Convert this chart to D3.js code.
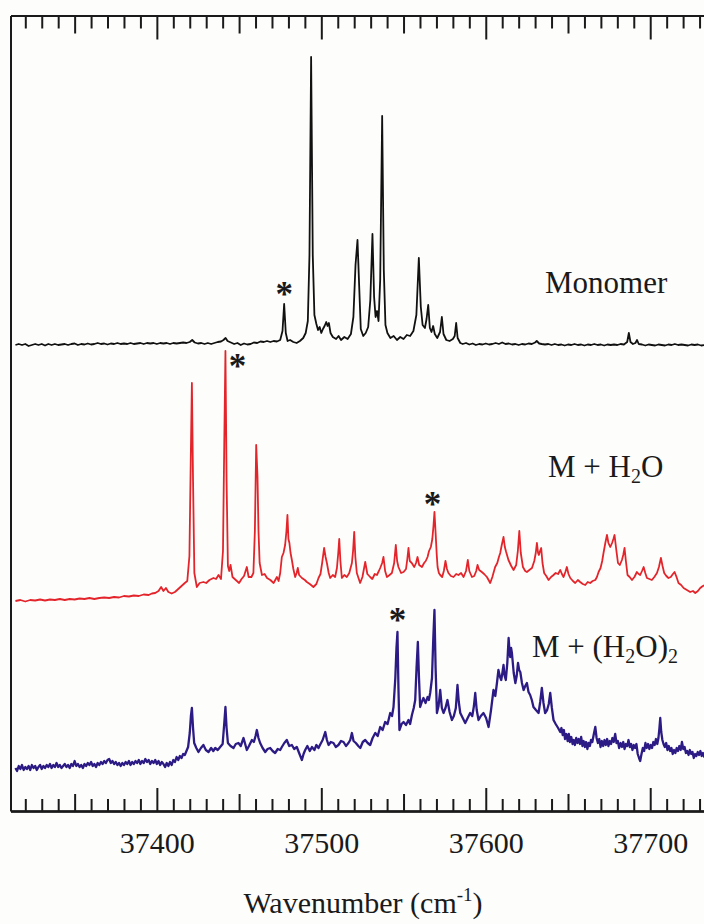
<!DOCTYPE html>
<html>
<head>
<meta charset="utf-8">
<script src="https://cdn.jsdelivr.net/npm/d3@7/dist/d3.min.js"></script>
<style>
  html, body { margin: 0; padding: 0; background: #fdfdfb; }
  svg { display: block; }
  text { font-family: "Liberation Serif", "Times New Roman", Times, serif; fill: #1a1a1a; }
</style>
</head>
<body>
<div id="chart"></div>
<script>
// Wavenumber range shown on the x axis (cm^-1)
const xDomain = [37311, 37740];
const majorTicks = [37400, 37500, 37600, 37700];
const mediumTicks = [37350, 37450, 37550, 37650];
const minorTicks = d3.range(37320, 37740, 10);

// Vertical stacking offsets of the three traces (arbitrary intensity units)
const traceOffsets = { monomer: 466, mH2O: 210, mH2O2: 43 };

// Monomer spectrum: [wavenumber, intensity]
const monomer = [
[37314,0],[37316,1],[37318,0],[37320,1],[37322,-1],[37324,0],[37326,1],[37328,0],[37330,1],[37332,-0.5],[37334,1],[37336,0],[37338,1],[37340,0],[37342,0.5],[37344,1],[37346,0],[37348,1],[37350,1.5],[37352,0],[37354,1],[37356,0.5],[37358,1.5],[37360,0.5],[37362,1],[37364,2],[37366,1],[37368,1.5],[37370,0.5],[37372,1.5],[37374,1],[37376,2],[37378,1],[37380,1.5],[37382,1],[37384,2],[37386,1],[37388,1.5],[37390,2],[37392,1],[37394,2],[37396,1.5],[37398,2],[37400,1],[37402,2],[37404,1.5],[37406,2],[37408,1],[37410,2],[37412,1.5],[37414,2],[37416,2.5],[37418,2],[37420,3],[37421.5,5],[37423,2.5],[37425,1.5],[37427,2],[37429,1],[37431,2],[37433,1],[37435,2],[37437,3],[37439,3.5],[37440.5,5],[37441.8,7],[37443,4],[37445,2.5],[37447,1],[37449,2],[37451,0],[37453,1.5],[37455,0.5],[37457,1],[37459,2.5],[37461,2],[37463,3.5],[37465,3],[37467,4],[37469,3],[37471,4],[37473,3.5],[37475,5],[37476.4,14],[37477.4,41],[37478.4,12],[37479.5,4],[37481,5],[37483,3],[37485,2],[37487,4],[37489,7],[37490.5,12],[37491.8,24],[37492.8,90],[37493.8,288],[37494.8,90],[37495.8,30],[37497,21],[37498,15],[37499,18],[37500,12],[37501,16],[37502,19],[37503,23],[37503.8,19],[37504.6,22],[37505.6,12],[37507,8],[37509,6],[37510.5,9],[37512,5],[37514,8],[37516,6],[37518,11],[37519.5,28],[37520.8,80],[37522,105],[37523,60],[37524,16],[37525.5,9],[37527,12],[37528.5,18],[37529.8,45],[37531.1,111],[37532.1,48],[37533,28],[37533.9,34],[37534.8,24],[37535.8,65],[37537,229],[37538,75],[37539,20],[37540.2,12],[37542,7],[37544,9],[37546,5],[37548,8],[37550,6],[37552,10],[37554,9],[37556,14],[37557.8,30],[37559.3,87],[37560.5,38],[37561.6,20],[37563,17],[37564,26],[37565,40],[37566,17],[37567,13],[37568,19],[37569,11],[37570.5,7],[37572.2,13],[37573.3,28],[37574.3,11],[37576,5],[37578,4],[37580,6],[37581.1,9],[37582,22],[37582.9,7],[37584.5,2],[37586,1],[37588,2],[37590,0.5],[37592,1.5],[37594,0],[37596,1],[37598,0.5],[37600,1.5],[37602,0.5],[37604,1],[37606,2],[37608,1],[37610,2.5],[37612,1],[37614,1.5],[37616,0.5],[37618,1],[37620,0],[37622,1],[37624,0.5],[37626,1.5],[37628,1],[37630,2.5],[37631,4],[37632.5,1.5],[37634,1],[37636,0.5],[37638,1],[37640,0],[37642,1],[37644,0],[37646,0.5],[37648,-0.5],[37650,0.5],[37652,0],[37654,1],[37656,0],[37658,0.5],[37660,-0.5],[37662,0.5],[37664,0],[37666,1],[37668,0],[37670,0.5],[37672,-0.5],[37674,0.5],[37676,0],[37678,0.5],[37680,0],[37682,1],[37684,0.5],[37686,3],[37687,12],[37688,3],[37689.5,1],[37691,2],[37692,5],[37693,1],[37695,0.5],[37697,-0.5],[37699,0.5],[37701,0],[37703,-0.5],[37705,0.5],[37707,0],[37709,-0.5],[37711,0.5],[37713,0],[37715,1],[37717,0],[37719,0.5],[37721,0],[37723,-0.5],[37725,0.5],[37727,0],[37729,0.5],[37731,-0.5],[37733,0],[37735,0.5],[37737,0]
];

// M + H2O spectrum: [wavenumber, intensity]
const mH2O = [
[37314,0],[37317,1],[37320,-0.5],[37323,1],[37326,0.5],[37329,1.5],[37332,0.5],[37335,1.5],[37338,1],[37341,2],[37344,1],[37347,2],[37350,1.5],[37353,2.5],[37356,2],[37359,3],[37362,2],[37365,3],[37368,3.5],[37371,3],[37374,4],[37377,3.5],[37380,5],[37383,4.5],[37386,5.5],[37389,5],[37392,6.5],[37395,6],[37397,7.5],[37399,8],[37401,10],[37402.6,14],[37404,10],[37405.5,13],[37407,9],[37409,7.5],[37411,9],[37413,12],[37415,15],[37417,18],[37418.5,20],[37419.8,45],[37420.6,140],[37421.3,218],[37422,120],[37422.8,28],[37424.3,14],[37426,18],[37428.3,19],[37430,18],[37432,21],[37434.4,23],[37436,22],[37437.5,26],[37439,22],[37440.2,50],[37441,160],[37441.7,250],[37442.4,120],[37443.2,35],[37444,30],[37444.8,36],[37446,24],[37448,21],[37450,18],[37451.5,22],[37453,25],[37454.7,34],[37455.8,24],[37457.5,24],[37458.7,28],[37459.6,70],[37460.4,156],[37461.2,124],[37461.8,70],[37462.5,38],[37463.9,26],[37465.5,27],[37467,23],[37469,21],[37471,18],[37472,21],[37473,24],[37474,20],[37475,28],[37476,44],[37477,48],[37478,56],[37478.8,70],[37479.4,86],[37480,62],[37480.6,58],[37481.3,48],[37482.1,41],[37483,32],[37484.1,24],[37485,28],[37485.7,33],[37486.5,26],[37488.2,23],[37490,21],[37491.2,19],[37493,17],[37495.2,14],[37497,17],[37498.3,23],[37499.5,27],[37500.5,38],[37501.7,53],[37502.6,44],[37503.4,38],[37504.5,28],[37505.4,23],[37507,26],[37508.4,24],[37509.5,33],[37510.3,48],[37510.9,62],[37511.6,40],[37512.5,23],[37514,26],[37515.5,24],[37517,28],[37518.6,38],[37519.3,50],[37520,69],[37520.7,44],[37521.6,28],[37523.6,18],[37525,24],[37526.7,39],[37528,27],[37529.7,24],[37531,22],[37532.5,27],[37533.8,26],[37535,30],[37535.8,33],[37537,38],[37537.8,44],[37538.8,30],[37539.9,24],[37541.5,26],[37542.9,28],[37544.3,38],[37545.3,56],[37546.1,40],[37546.9,34],[37548.5,28],[37550,29],[37551.5,32],[37552.3,42],[37553,53],[37553.8,40],[37555,38],[37556.5,34],[37557.6,38],[37558.5,44],[37559.5,36],[37561.2,34],[37562.5,38],[37563.5,40],[37564.6,44],[37565.5,50],[37566.6,54],[37567.5,62],[37568.2,75],[37568.8,89],[37569.5,68],[37570.2,46],[37570.7,34],[37571.5,28],[37572.3,26],[37573.5,24],[37574.5,30],[37575.5,40],[37576.4,32],[37577.3,28],[37578.8,25],[37580.4,24],[37582,27],[37583.4,26],[37585,28],[37586.5,24],[37588,30],[37589.1,41],[37590,30],[37591.6,24],[37593,25],[37594.2,30],[37595,36],[37596,31],[37597.6,29],[37599,27],[37600.7,24],[37602.7,18],[37604,24],[37605.7,34],[37607,38],[37608,44],[37608.8,48],[37609.6,55],[37610.8,64],[37611.6,54],[37612.4,49],[37613.8,41],[37615.5,35],[37616.9,31],[37618.5,36],[37619.5,50],[37620.4,70],[37621.3,48],[37622.6,34],[37624,30],[37625,29],[37626.5,31],[37628.1,33],[37629.5,40],[37630.4,48],[37631.1,58],[37631.8,48],[37632.3,46],[37633,50],[37633.7,53],[37634.5,38],[37635.5,28],[37636.8,25],[37638.2,21],[37639.7,24],[37641.2,26],[37642.5,28],[37644,27],[37645.3,31],[37646.3,27],[37647.3,24],[37648.4,29],[37649.3,34],[37650.3,27],[37651.4,23],[37653,20],[37654.4,18],[37656,21],[37657.4,19],[37659,17],[37660.5,16],[37662,19],[37663.5,18],[37665,20],[37666.6,21],[37667.6,24],[37668.6,29],[37669.8,33],[37670.8,40],[37671.6,48],[37672.7,58],[37673.7,66],[37674.6,58],[37675.7,54],[37676.8,58],[37677.6,62],[37678.3,66],[37679.3,52],[37680.4,38],[37681.5,36],[37682.8,41],[37683.6,46],[37684.4,53],[37685.2,40],[37686.2,26],[37687.5,24],[37688.9,21],[37690.4,24],[37691.9,29],[37693,27],[37693.9,26],[37695,30],[37696,34],[37697,28],[37698,23],[37699.5,22],[37701,21],[37702.5,24],[37704.1,28],[37705.3,34],[37706.5,43],[37707.5,35],[37708.5,28],[37709.8,25],[37711.1,23],[37712.5,24],[37713.8,27],[37714.8,29],[37716,24],[37717.2,18],[37718.8,16],[37720.3,13],[37722.3,11],[37724.3,9],[37726,10],[37727.4,8],[37729,10],[37730.4,13],[37732,15],[37733.5,16],[37735,14],[37737,15]
];

// M + (H2O)2 spectrum: [wavenumber, intensity]
const mH2O2 = [
[37314,0],[37315,-3],[37316,2],[37317,-1],[37318,3],[37319,-2],[37320,1],[37321,-1],[37322,2],[37323,-2],[37324,3],[37325,0],[37326,2],[37327,-2],[37328,1],[37329,3],[37330,-1],[37331,2],[37332,0],[37333,3],[37334,1],[37335,4],[37336,0],[37337,3],[37338,1],[37339,5],[37340,1],[37341,3],[37342,0],[37343,2],[37344,4],[37345,1],[37346,3],[37347,0],[37348,4],[37349,2],[37350,7],[37351,2],[37352,4],[37353,1],[37354,3],[37355,0],[37356,4],[37357,2],[37358,5],[37359,3],[37360,6],[37361,2],[37362,4],[37363,1],[37364,5],[37365,3],[37366,6],[37367,4],[37368,7],[37369,5],[37370,8],[37371,9],[37372,5],[37373,7],[37374,4],[37375,6],[37376,3],[37377,5],[37378,2],[37379,5],[37380,3],[37381,6],[37382,4],[37383,7],[37384,3],[37385,6],[37386,4],[37387,7],[37388,5],[37389,8],[37390,4],[37391,7],[37392,5],[37393,9],[37394,6],[37395,8],[37396,4],[37397,7],[37398,5],[37399,8],[37400,4],[37401,7],[37402,3],[37403,6],[37404,4],[37405,1],[37406,5],[37407,2],[37408,6],[37409,3],[37410,8],[37411,6],[37412,11],[37413,8],[37414,12],[37415,10],[37416,14],[37417,13],[37418,17],[37419,21],[37420,35],[37420.7,52],[37421.3,60],[37422,40],[37422.7,25],[37424,20],[37425.3,16],[37426.8,20],[37428.3,23],[37429.8,18],[37431.4,16],[37433,20],[37434.3,17],[37435.5,20],[37437,18],[37438.5,21],[37440,24],[37441,45],[37441.7,61],[37442.4,40],[37443.2,25],[37444.8,22],[37446.6,20],[37448,24],[37449.6,25],[37451,22],[37452.7,30],[37453.7,24],[37454.7,18],[37456,22],[37457.8,28],[37459,26],[37460,32],[37460.8,38],[37461.8,30],[37462.8,25],[37464.3,20],[37465.9,16],[37467.3,19],[37468.9,20],[37470.4,17],[37471.9,15],[37473.5,19],[37475,18],[37476,21],[37477.5,25],[37479,28],[37480.5,22],[37482.1,23],[37483.5,19],[37485.1,21],[37486.5,15],[37488.2,8],[37489.2,14],[37490.2,18],[37491.5,22],[37493,17],[37494.3,21],[37495.8,18],[37497,23],[37498.3,20],[37499.5,24],[37500.8,28],[37502.4,36],[37503.4,28],[37504.4,23],[37505.8,26],[37507.4,25],[37508.8,21],[37510.4,23],[37512,27],[37513.5,26],[37515,22],[37516.5,25],[37517.6,28],[37518.6,35],[37519.6,27],[37521,25],[37522.5,22],[37523.7,20],[37525.2,26],[37526.7,28],[37528.2,25],[37529.7,23],[37531.2,30],[37532.8,35],[37534.3,32],[37535.8,41],[37537.3,38],[37538.8,46],[37540.3,44],[37541.9,55],[37543,52],[37543.9,61],[37545,90],[37545.7,120],[37546.3,136],[37546.9,80],[37547.5,38],[37548.8,44],[37550,46],[37551.5,43],[37553,48],[37554,44],[37555.1,53],[37556.2,60],[37557.1,68],[37557.9,100],[37558.7,126],[37559.4,90],[37560.1,61],[37561.1,66],[37562.1,70],[37563.4,65],[37564.6,71],[37565.4,68],[37566.2,75],[37567.3,90],[37568.1,130],[37568.8,158],[37569.5,100],[37570.3,55],[37571.3,62],[37572.3,78],[37573.3,60],[37574.3,55],[37575.5,60],[37576.7,68],[37578,56],[37579.4,48],[37580.6,52],[37581.8,60],[37582.8,83],[37583.6,66],[37584.5,55],[37586,50],[37587.5,45],[37589,50],[37590.5,55],[37591.8,52],[37592.8,62],[37593.6,75],[37594.5,58],[37595.6,48],[37597,52],[37598.6,55],[37600.2,50],[37601.7,41],[37603.2,58],[37604.7,78],[37605.8,72],[37606.8,85],[37607.7,98],[37608.5,92],[37609.4,88],[37610.1,95],[37610.8,103],[37611.5,92],[37612.2,88],[37613.1,105],[37613.9,130],[37614.4,118],[37614.9,111],[37615.4,120],[37615.9,115],[37617,95],[37618,85],[37618.8,92],[37619.6,105],[37620.3,98],[37621,96],[37622,85],[37623,78],[37624,82],[37625,85],[37626,76],[37627,73],[37628,68],[37629,61],[37630.5,58],[37632.1,55],[37633.1,66],[37634.1,80],[37635.1,65],[37636.1,55],[37637.3,58],[37638.3,64],[37639.2,75],[37640.2,60],[37641.2,48],[37642.5,44],[37644,40],[37645.3,36],[37646,40],[37646.8,33],[37647.5,38],[37648.2,29],[37649,34],[37649.8,27],[37650.5,34],[37651.2,26],[37652,31],[37652.8,24],[37653.5,28],[37654.2,23],[37655,30],[37655.8,25],[37656.5,29],[37657.3,24],[37658,31],[37658.8,22],[37659.5,27],[37660.3,21],[37661,26],[37661.8,19],[37662.5,25],[37663.3,22],[37664,28],[37664.8,26],[37665.6,33],[37666.6,41],[37667.4,30],[37668.2,25],[37669,29],[37669.8,21],[37670.6,27],[37671.4,22],[37672.2,28],[37673,23],[37673.8,29],[37674.6,22],[37675.4,27],[37676.2,24],[37677,30],[37677.8,26],[37678.7,34],[37679.5,25],[37680.3,27],[37681.1,20],[37682,25],[37682.8,21],[37683.6,26],[37684.4,19],[37685.2,24],[37686,22],[37686.8,28],[37687.6,21],[37688.4,24],[37689.2,18],[37690,23],[37690.8,20],[37691.6,24],[37692.4,14],[37693.2,10],[37693.9,7],[37694.7,14],[37695.5,20],[37696.3,17],[37697.1,25],[37697.9,20],[37698.7,24],[37699.5,19],[37700.3,23],[37701.1,20],[37701.9,26],[37702.7,23],[37703.5,29],[37704.3,24],[37705,30],[37705.6,40],[37706.1,50],[37706.7,36],[37707.4,28],[37708.1,24],[37708.9,21],[37709.7,25],[37710.5,18],[37711.3,22],[37712.1,17],[37712.9,20],[37713.7,14],[37714.5,18],[37715.3,15],[37716.1,20],[37716.9,17],[37717.7,22],[37718.5,18],[37719.3,26],[37720.1,19],[37720.9,21],[37721.7,15],[37722.5,17],[37723.3,13],[37724.1,18],[37724.9,14],[37725.7,16],[37726.5,10],[37727.3,14],[37728.1,12],[37728.9,16],[37729.7,13],[37730.5,17],[37731.3,12],[37732.1,15],[37732.9,11],[37733.7,15],[37734.5,13],[37735.3,16],[37736.1,12],[37737,14]
];

const W = 704, H = 924;
const plot = { left: 10.5, top: 15.5, bottom: 811, right: 716 };

const svg = d3.select("#chart").append("svg")
  .attr("width", W).attr("height", H)
  .attr("viewBox", `0 0 ${W} ${H}`);

svg.append("rect").attr("width", W).attr("height", H).attr("fill", "#fdfdfb");

const x = d3.scaleLinear().domain(xDomain).range([plot.left, plot.right]);
const y = d3.scaleLinear().domain([0, 800]).range([plot.bottom, plot.bottom - 800]);

svg.append("defs").append("clipPath").attr("id", "plot-clip")
  .append("rect")
  .attr("x", plot.left + 1).attr("y", plot.top + 1)
  .attr("width", plot.right - plot.left).attr("height", plot.bottom - plot.top - 2);

// Spectra
const traces = [
  { data: mH2O2, offset: traceOffsets.mH2O2, color: "#2d1b85", width: 2.3 },
  { data: mH2O,  offset: traceOffsets.mH2O,  color: "#e3252b", width: 1.8 },
  { data: monomer, offset: traceOffsets.monomer, color: "#111111", width: 1.8 }
];

const gTraces = svg.append("g").attr("clip-path", "url(#plot-clip)");
traces.forEach(t => {
  const line = d3.line()
    .x(d => x(d[0]))
    .y(d => y(d[1] + t.offset));
  gTraces.append("path")
    .datum(t.data)
    .attr("fill", "none")
    .attr("stroke", t.color)
    .attr("stroke-width", t.width)
    .attr("stroke-linejoin", "round")
    .attr("d", line);
});

// Frame and inward ticks (minor every 10, medium every 50, major every 100)
function styleAxis(g) {
  g.selectAll("path.domain").attr("stroke", "#1a1a1a").attr("stroke-width", 2);
  g.selectAll(".tick line").attr("stroke", "#1a1a1a").attr("stroke-width", 2);
}
const tickSets = [
  { values: minorTicks.filter(v => v % 50 !== 0), len: 12 },
  { values: mediumTicks, len: 17 },
  { values: majorTicks, len: 23 }
];
tickSets.forEach((ts, i) => {
  svg.append("g")
    .attr("transform", `translate(0,${plot.bottom})`)
    .call(d3.axisBottom(x).tickValues(ts.values).tickSizeInner(-ts.len).tickSizeOuter(0)
      .tickPadding(21).tickFormat(i === 2 ? d3.format("d") : ""))
    .call(styleAxis)
    .call(g => g.selectAll(".tick text").attr("font-size", 30).attr("fill", "#1a1a1a")
      .style("font-family", "'Liberation Serif', 'Times New Roman', serif"));
  svg.append("g")
    .attr("transform", `translate(0,${plot.top})`)
    .call(d3.axisTop(x).tickValues(ts.values).tickSizeInner(-(ts.len + 1)).tickSizeOuter(0).tickFormat(""))
    .call(styleAxis);
});

// Left frame edge
svg.append("g")
  .attr("transform", `translate(${plot.left},0)`)
  .call(d3.axisLeft(d3.scaleLinear().range([plot.top, plot.bottom])).tickValues([]).tickSizeOuter(0))
  .call(styleAxis);

// Axis title
const title = svg.append("text")
  .attr("x", 363).attr("y", 913)
  .attr("text-anchor", "middle")
  .attr("font-size", 30);
title.append("tspan").text("Wavenumber (cm");
title.append("tspan").attr("font-size", 19).attr("baseline-shift", "12").text("-1");
title.append("tspan").text(")");

// Trace labels
const labels = svg.append("g").attr("font-size", 31);
labels.append("text").attr("x", 545).attr("y", 293).text("Monomer");

const l2 = labels.append("text").attr("x", 548).attr("y", 477);
l2.append("tspan").text("M + H");
l2.append("tspan").attr("font-size", 20).attr("baseline-shift", "-6").text("2");
l2.append("tspan").text("O");

const l3 = labels.append("text").attr("x", 532).attr("y", 657);
l3.append("tspan").text("M + (H");
l3.append("tspan").attr("font-size", 20).attr("baseline-shift", "-6").text("2");
l3.append("tspan").text("O)");
l3.append("tspan").attr("font-size", 20).attr("baseline-shift", "-6").text("2");

// Asterisks marking selected bands
const marks = [
  { wn: 37477.4, v: 41 + traceOffsets.monomer, dx: 0, gap: 16 },
  { wn: 37441.7, v: 250 + traceOffsets.mH2O, dx: 12, gap: -9 },
  { wn: 37568.8, v: 89 + traceOffsets.mH2O, dx: -2, gap: 14 },
  { wn: 37546.3, v: 136 + traceOffsets.mH2O2, dx: 0, gap: 18 }
];
svg.append("g").selectAll("text").data(marks).join("text")
  .attr("x", d => x(d.wn) + d.dx)
  .attr("y", d => y(d.v) - d.gap + 18)
  .attr("text-anchor", "middle")
  .attr("font-size", 35)
  .attr("font-weight", "bold")
  .text("*");
</script>
</body>
</html>
